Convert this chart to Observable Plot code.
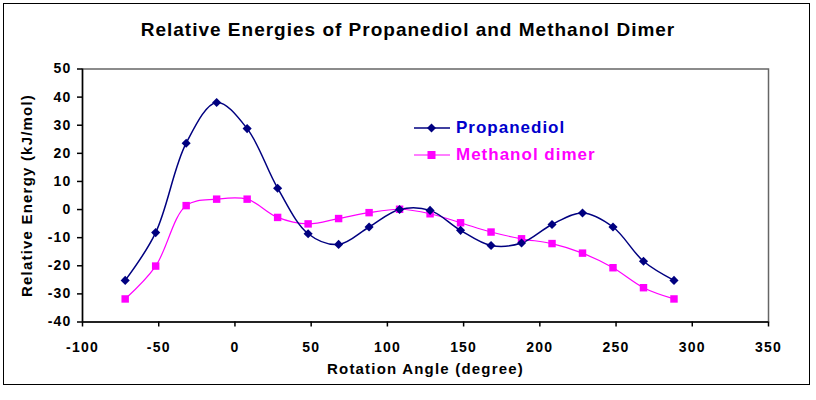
<!DOCTYPE html>
<html>
<head>
<meta charset="utf-8">
<script src="https://cdn.jsdelivr.net/npm/d3@7"></script>
<script src="https://cdn.jsdelivr.net/npm/@observablehq/plot@0.6"></script>
<style>
  html, body { margin: 0; padding: 0; background: #fff; }
  body { font-family: "Liberation Sans", Arial, sans-serif; }
  #wrap { position: relative; width: 816px; height: 400px; overflow: hidden; }
  #border { position: absolute; left: 3px; top: 3px; width: 805px; height: 380px; border: 1.5px solid #000; pointer-events: none; }
  #title { position: absolute; left: 0; width: 816px; top: 19px; text-align: center; font-weight: bold; font-size: 19px; letter-spacing: 1px; color: #000; }
  #legend { position: absolute; left: 414px; top: 114px; font-weight: bold; font-size: 17px; letter-spacing: 1px; }
  .item { display: flex; align-items: center; height: 27px; }
  .item svg { margin-right: 6px; }
  #chart { position: absolute; left: 0; top: 0; }
</style>
</head>
<body>
<div id="wrap">
  <div id="chart"></div>
  <div id="title">Relative Energies of Propanediol and Methanol Dimer</div>
  <div id="legend"></div>
  <div id="border"></div>
</div>
<script>
// Rotation angles (degrees) shared by both series
const angles = [-72, -52, -32, -12, 8, 28, 48, 68, 88, 108, 128, 148, 168, 188, 208, 228, 248, 268, 288];

// Relative energies in kJ/mol
const propanediol = [-25.2, -8.2, 23.6, 38.1, 28.8, 7.6, -8.6, -12.4, -6.2, 0.0, -0.3, -7.4, -12.8, -11.9, -5.3, -1.2, -6.2, -18.4, -25.2];
const methanolDimer = [-31.8, -20.1, 1.4, 3.7, 3.7, -2.8, -5.1, -3.2, -1.1, 0.1, -1.5, -4.7, -8.0, -10.4, -12.1, -15.5, -20.7, -27.8, -31.8];

// Axis ranges and ticks
const xDomain = [-100, 350];
const yDomain = [-40, 50];
const xTicks = [-100, -50, 0, 50, 100, 150, 200, 250, 300, 350];
const yTicks = [-40, -30, -20, -10, 0, 10, 20, 30, 40, 50];

const seriesNames = ["Propanediol", "Methanol dimer"];
const lineColors = ["#000080", "#FF00FF"];
const textColors = ["#0000CC", "#FF00FF"];

const pd = angles.map((a, i) => ({angle: a, energy: propanediol[i]}));
const md = angles.map((a, i) => ({angle: a, energy: methanolDimer[i]}));

const fmt = d => String(d);

const chart = Plot.plot({
  width: 816,
  height: 400,
  marginLeft: 82,
  marginRight: 48,
  marginTop: 68.5,
  marginBottom: 78.5,
  style: {fontFamily: "'Liberation Sans', Arial, sans-serif", fontSize: "14px", fontWeight: "bold", letterSpacing: "1.2px", color: "#000", background: "transparent", overflow: "visible"},
  x: {domain: xDomain, label: null},
  y: {domain: yDomain, label: null},
  marks: [
    Plot.frame({stroke: "#666", strokeWidth: 1.5}),
    Plot.ruleY([yDomain[0]], {stroke: "#000", strokeWidth: 1.5}),
    Plot.ruleX([xDomain[0]], {stroke: "#000", strokeWidth: 1.5}),
    Plot.axisX({ticks: xTicks, tickFormat: fmt, tickSize: 5, tickPadding: 15, label: null, stroke: "#000", strokeWidth: 1.5, fill: "#000"}),
    Plot.axisY({ticks: yTicks, tickFormat: fmt, tickSize: 5, tickPadding: 6, label: null, stroke: "#000", strokeWidth: 1.5, fill: "#000"}),
    Plot.line(md, {x: "angle", y: "energy", stroke: lineColors[1], strokeWidth: 1.2, curve: "catmull-rom"}),
    Plot.line(pd, {x: "angle", y: "energy", stroke: lineColors[0], strokeWidth: 1.5, curve: "catmull-rom"}),
    Plot.dot(md, {x: "angle", y: "energy", symbol: "square", r: 4.2, fill: lineColors[1], stroke: "none"}),
    Plot.dot(pd, {x: "angle", y: "energy", symbol: "diamond2", r: 4.1, fill: lineColors[0], stroke: "none"}),
    Plot.text(["Rotation Angle (degree)"], {frameAnchor: "bottom", dy: 52, fontSize: 15, fontWeight: "bold", fill: "#000", textAnchor: "middle"}),
    Plot.text(["Relative Energy (kJ/mol)"], {frameAnchor: "left", dx: -55, rotate: -90, fontSize: 15, fontWeight: "bold", fill: "#000", textAnchor: "middle"})
  ]
});
document.getElementById("chart").appendChild(chart);

// Legend: a short line with the series marker, followed by the series name
const legend = document.getElementById("legend");
seriesNames.forEach((name, i) => {
  const item = document.createElement("div");
  item.className = "item";
  const marker = i === 0
    ? `<path d="M17.5,1.5 L22,6 L17.5,10.5 L13,6 Z" fill="${lineColors[i]}"/>`
    : `<rect x="13.5" y="2" width="8" height="8" fill="${lineColors[i]}"/>`;
  item.innerHTML = `<svg width="36" height="12"><line x1="0" y1="6" x2="36" y2="6" stroke="${lineColors[i]}" stroke-width="${i === 0 ? 1.5 : 1.2}"/>${marker}</svg><span style="color:${textColors[i]}">${name}</span>`;
  legend.appendChild(item);
});
</script>
</body>
</html>
